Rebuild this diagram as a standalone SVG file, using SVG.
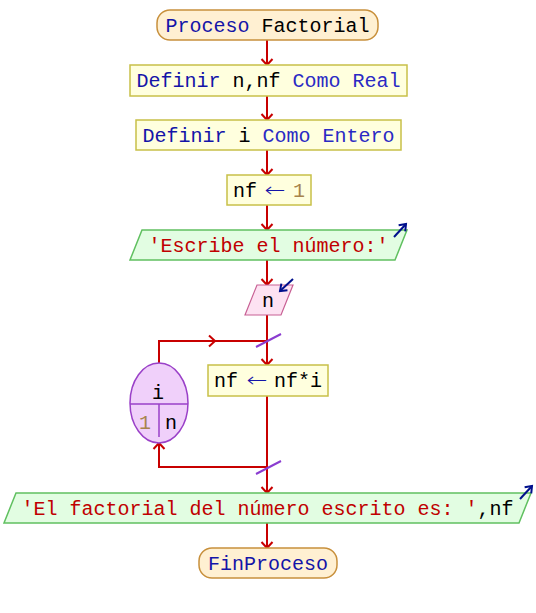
<svg xmlns="http://www.w3.org/2000/svg" width="536" height="613" viewBox="0 0 536 613">
<style>
text{font-family:"Liberation Mono","DejaVu Sans Mono",monospace;font-size:20px}
.kw{fill:#1414a8}
.kw2{fill:#2a2ac4}
.id{fill:#000}
.str{fill:#c00000}
.num{fill:#a8844c}
.ar{font-family:"DejaVu Sans",sans-serif;font-weight:200;fill:#1414a8}
.term{fill:#fff0d2;stroke:#c8903c;stroke-width:1.5}
.proc{fill:#ffffde;stroke:#c8c048;stroke-width:1.5}
.out{fill:#e2fde2;stroke:#60c060;stroke-width:1.5}
.in{fill:#fde2f2;stroke:#c86094;stroke-width:1.2}
.loop{fill:#f0d0fa;stroke:#9a40c8;stroke-width:1.5}
.con{fill:none;stroke:#c80000;stroke-width:2}
.slash{stroke:#8a3cd0;stroke-width:2}
.ico{fill:none;stroke:#00108c;stroke-width:2}
</style>
<defs>
<marker id="ah" markerUnits="userSpaceOnUse" markerWidth="14" markerHeight="14" viewBox="-8 -7 10 14" refX="0" refY="0" orient="auto">
<path d="M-6,-5.5 L0,0 L-6,5.5" fill="none" stroke="#c80000" stroke-width="2"/>
</marker>
<marker id="ih" markerUnits="userSpaceOnUse" markerWidth="12" markerHeight="12" viewBox="-7 -6 9 12" refX="0" refY="0" orient="auto">
<path d="M-6,-4.5 L0,0 L-6,4.5" fill="none" stroke="#00108c" stroke-width="2"/>
</marker>
</defs>
<g id="connectors">
<line class="con" x1="267" y1="40" x2="267" y2="65" marker-end="url(#ah)"/>
<line class="con" x1="267" y1="96" x2="267" y2="120" marker-end="url(#ah)"/>
<line class="con" x1="267" y1="150" x2="267" y2="175" marker-end="url(#ah)"/>
<line class="con" x1="267" y1="205" x2="267" y2="230" marker-end="url(#ah)"/>
<line class="con" x1="267" y1="260" x2="267" y2="285" marker-end="url(#ah)"/>
<line class="con" x1="267" y1="315" x2="267" y2="365" marker-end="url(#ah)"/>
<line class="con" x1="267" y1="396" x2="267" y2="493" marker-end="url(#ah)"/>
<line class="con" x1="267" y1="523" x2="267" y2="548" marker-end="url(#ah)"/>
<path class="con" d="M159,363 V341 H267"/>
<path class="con" d="M209,335.5 L215,341 L209,346.5"/>
<path class="con" d="M267,467 H159 V443" marker-end="url(#ah)"/>
<line class="slash" x1="256" y1="347" x2="281" y2="334"/>
<line class="slash" x1="256" y1="474" x2="281" y2="461"/>
</g>
<g id="start">
<rect class="term" x="157" y="10" width="221" height="30" rx="13"/>
<text x="267.5" y="32" text-anchor="middle"><tspan class="kw">Proceso</tspan> <tspan class="id">Factorial</tspan></text>
</g>
<g id="def1">
<rect class="proc" x="130" y="65" width="277" height="31"/>
<text x="268.5" y="87" text-anchor="middle"><tspan class="kw">Definir</tspan> <tspan class="id">n,nf</tspan> <tspan class="kw2">Como</tspan> <tspan class="kw2">Real</tspan></text>
</g>
<g id="def2">
<rect class="proc" x="136" y="120" width="265" height="30"/>
<text x="268.5" y="142" text-anchor="middle"><tspan class="kw">Definir</tspan> <tspan class="id">i</tspan> <tspan class="kw2">Como</tspan> <tspan class="kw2">Entero</tspan></text>
</g>
<g id="assign1">
<rect class="proc" x="227" y="175" width="84" height="30"/>
<text class="id" x="233" y="197">nf</text>
<text class="ar" x="264.5" y="197" textLength="21" lengthAdjust="spacingAndGlyphs">←</text>
<text class="num" x="293" y="197">1</text>
</g>
<g id="write1">
<polygon class="out" points="142,230 407,230 395,260 130,260"/>
<text class="str" x="268.5" y="252" text-anchor="middle">'Escribe el número:'</text>
<line class="ico" x1="394" y1="237" x2="406" y2="224" marker-end="url(#ih)"/>
</g>
<g id="read1">
<polygon class="in" points="257,285 293,285 281,315 245,315"/>
<text class="id" x="268" y="307" text-anchor="middle">n</text>
<line class="ico" x1="293" y1="279" x2="280" y2="291" marker-end="url(#ih)"/>
</g>
<g id="for">
<ellipse class="loop" cx="159" cy="403" rx="29" ry="40"/>
<line class="loop" x1="130" y1="404" x2="188" y2="404"/>
<line class="loop" x1="159" y1="404" x2="159" y2="437"/>
<text class="id" x="158" y="399" text-anchor="middle">i</text>
<text class="num" x="145" y="429" text-anchor="middle">1</text>
<text class="id" x="171" y="429" text-anchor="middle">n</text>
</g>
<g id="assign2">
<rect class="proc" x="208" y="365" width="120" height="31"/>
<text class="id" x="214" y="387">nf</text>
<text class="ar" x="246.5" y="387" textLength="21" lengthAdjust="spacingAndGlyphs">←</text>
<text class="id" x="274" y="387">nf*i</text>
</g>
<g id="write2">
<polygon class="out" points="16,493 531,493 519,523 4,523"/>
<text x="267.5" y="515" text-anchor="middle"><tspan class="str">'El factorial del número escrito es: '</tspan><tspan class="id">,nf</tspan></text>
<line class="ico" x1="520" y1="499" x2="532" y2="486" marker-end="url(#ih)"/>
</g>
<g id="end">
<rect class="term" x="199" y="548" width="138" height="30" rx="13"/>
<text class="kw" x="268" y="570" text-anchor="middle">FinProceso</text>
</g>
</svg>
